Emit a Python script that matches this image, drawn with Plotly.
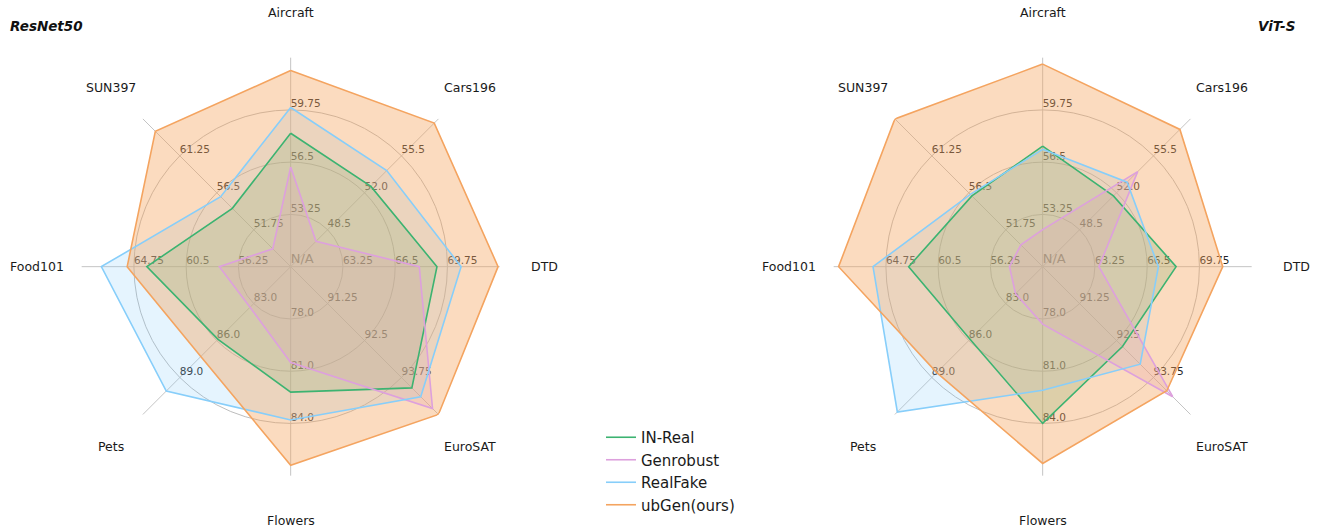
import math
import plotly.graph_objects as go

categories = ["Aircraft", "Cars196", "DTD", "EuroSAT", "Flowers", "Pets", "Food101", "SUN397"]

# tick labels per axis (at 1/4, 2/4, 3/4 of the axis length)
ticks = {
    "Aircraft": [53.25, 56.5, 59.75],
    "Cars196": [48.5, 52.0, 55.5],
    "DTD": [63.25, 66.5, 69.75],
    "EuroSAT": [91.25, 92.5, 93.75],
    "Flowers": [78.0, 81.0, 84.0],
    "Pets": [83.0, 86.0, 89.0],
    "Food101": [56.25, 60.5, 64.75],
    "SUN397": [51.75, 56.5, 61.25],
}
tick_fracs = [0.25, 0.5, 0.75]

series_names = ["IN-Real", "Genrobust", "RealFake", "ubGen(ours)"]

resnet_in_real = [58.3, 52.6, 69.1, 94.1, 82.2, 85.9, 63.7, 54.5]
resnet_genrobust = [56.2, 47.4, 68.0, 94.8, 80.5, 83.3, 57.8, 49.3]
resnet_realfake = [59.9, 54.1, 70.6, 94.4, 83.8, 90.1, 67.4, 56.0]
resnet_ubgen = [62.2, 58.6, 72.9, 95.0, 86.4, 87.3, 65.3, 64.4]

vit_in_real = [57.5, 51.7, 68.3, 92.7, 84.0, 85.9, 62.9, 56.1]
vit_genrobust = [52.3, 54.0, 63.5, 94.4, 78.3, 82.2, 54.7, 49.8]
vit_realfake = [57.3, 53.0, 67.2, 93.3, 82.1, 91.8, 65.8, 56.3]
vit_ubgen = [62.6, 58.0, 71.2, 94.2, 86.3, 88.6, 68.6, 66.0]

line_colors = ["#3CB371", "#DDA0DD", "#87CEFA", "#F4A460"]
fill_colors = ["rgba(60,179,113,0.25)", "rgba(221,160,221,0.25)",
               "rgba(135,206,250,0.22)", "rgba(244,164,96,0.40)"]


def axis_range(cat):
    t = ticks[cat]
    step = t[1] - t[0]
    return t[0] - step, t[2] + step


def normalize(values):
    out = []
    for cat, v in zip(categories, values):
        lo, hi = axis_range(cat)
        out.append((v - lo) / (hi - lo))
    return out


fig = go.Figure()

panels = [
    ("polar", [resnet_in_real, resnet_genrobust, resnet_realfake, resnet_ubgen]),
    ("polar2", [vit_in_real, vit_genrobust, vit_realfake, vit_ubgen]),
]

for subplot, data in panels:
    # per-axis tick labels (drawn below fills)
    tr, tt, tx = [], [], []
    for cat in categories:
        for f, lab in zip(tick_fracs, ticks[cat]):
            tr.append(f)
            tt.append(cat)
            tx.append(str(lab))
    fig.add_trace(go.Scatterpolar(
        r=tr, theta=tt, text=tx, mode="text", textposition="top right",
        textfont=dict(family="DejaVu Sans", size=10.5, color="#262626"),
        subplot=subplot, showlegend=False, hoverinfo="skip"))
    fig.add_trace(go.Scatterpolar(
        r=[0], theta=[categories[0]], text=["N/A"], mode="text",
        textposition="top right",
        textfont=dict(family="DejaVu Sans", size=13, color="#555555"),
        subplot=subplot, showlegend=False, hoverinfo="skip"))
    # fills first
    for name, vals, fc in zip(series_names, data, fill_colors):
        rn = normalize(vals)
        fig.add_trace(go.Scatterpolar(
            r=rn + [rn[0]], theta=categories + [categories[0]],
            mode="lines", fill="toself", fillcolor=fc,
            line=dict(color="rgba(0,0,0,0)", width=0),
            subplot=subplot, showlegend=False, hoverinfo="skip"))
    # outlines on top
    for name, vals, lc in zip(series_names, data, line_colors):
        rn = normalize(vals)
        fig.add_trace(go.Scatterpolar(
            r=rn + [rn[0]], theta=categories + [categories[0]],
            mode="lines", line=dict(color=lc, width=1.6), name=name,
            subplot=subplot, showlegend=(subplot == "polar")))

W, H = 1319, 531
R = 209
centers = [(290.67, 266.67), (1042.67, 266.67)]


def dom(cx, cy):
    return dict(x=[(cx - R) / W, (cx + R) / W],
                y=[(H - cy - R) / H, (H - cy + R) / H])


polar_common = dict(
    bgcolor="white",
    radialaxis=dict(range=[0, 1], tickvals=tick_fracs, showticklabels=False,
                    ticks="", showline=False, gridcolor="#bdbdbd", gridwidth=1),
    angularaxis=dict(type="category", categoryarray=categories, rotation=90,
                     direction="clockwise", showticklabels=False, ticks="",
                     showline=False, gridcolor="#c4c4c4", gridwidth=1),
)

annotations = [
    dict(text="<b><i>ResNet50</i></b>", xref="paper", yref="paper",
         x=8 / W, y=(H - 26) / H, xanchor="left", yanchor="middle",
         showarrow=False, font=dict(family="DejaVu Sans", size=13.5, color="#111")),
    dict(text="<b><i>ViT-S</i></b>", xref="paper", yref="paper",
         x=1297 / W, y=(H - 26) / H, xanchor="right", yanchor="middle",
         showarrow=False, font=dict(family="DejaVu Sans", size=13.5, color="#111")),
]
# axis names placed just outside the grid
LABEL_R = 1.215
for cx, cy in centers:
    for i, cat in enumerate(categories):
        ang = math.radians(90 - 45 * i)
        px = cx + LABEL_R * R * math.cos(ang)
        py = cy - LABEL_R * R * math.sin(ang)
        annotations.append(dict(
            text=cat, xref="paper", yref="paper", x=px / W, y=(H - py) / H,
            xanchor="center", yanchor="middle", showarrow=False,
            font=dict(family="DejaVu Sans", size=12.5, color="#1a1a1a")))

fig.update_layout(
    width=W, height=H,
    margin=dict(l=0, r=0, t=0, b=0),
    paper_bgcolor="white",
    polar=dict(domain=dom(*centers[0]), **polar_common),
    polar2=dict(domain=dom(*centers[1]), **polar_common),
    legend=dict(x=601 / W, y=(H - 421) / H, xanchor="left", yanchor="top",
                tracegroupgap=0,
                font=dict(family="DejaVu Sans", size=15, color="#1a1a1a"),
                bgcolor="rgba(0,0,0,0)"),
    annotations=annotations,
)

fig.write_html(
    "out.html",
    config={"displayModeBar": False},
    post_script="document.body.style.margin='0';document.body.style.padding='0';",
)
